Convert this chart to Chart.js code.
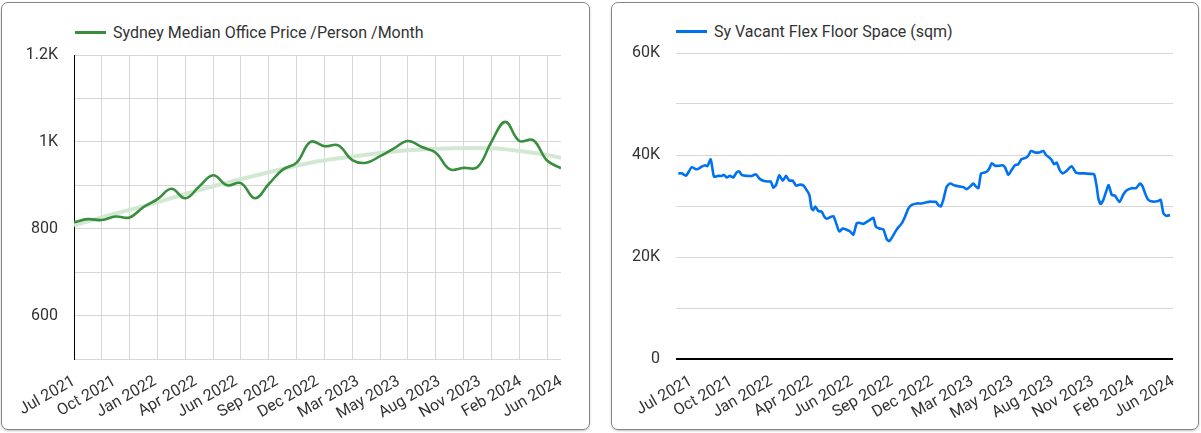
<!DOCTYPE html>
<html><head><meta charset="utf-8">
<script src="https://cdn.jsdelivr.net/npm/chart.js@4.4.1/dist/chart.umd.min.js"></script>
<style>
html,body{margin:0;padding:0;background:#fff;width:1201px;height:433px;overflow:hidden;font-family:Roboto,sans-serif;}
.card{position:absolute;border:1px solid #858585;border-radius:7px;box-sizing:border-box;box-shadow:0 1px 2px rgba(0,0,0,.25);}
.wrap{position:absolute;top:0;}
.legend{position:absolute;font:16px Roboto,sans-serif;color:#333;white-space:nowrap;display:flex;align-items:center;height:19px;}
.legend i{display:inline-block;width:31px;height:3px;margin-right:7px;}
</style></head><body>
<div class="card" style="left:1px;top:2px;width:589px;height:428px"></div>
<div class="card" style="left:611px;top:2px;width:588px;height:428px"></div>
<div class="legend" style="left:75px;top:23px"><i style="background:#388e3c"></i>Sydney Median Office Price /Person /Month</div>
<div class="legend" style="left:676px;top:22px"><i style="background:#0072f0"></i>Sy Vacant Flex Floor Space (sqm)</div>
<div class="wrap" style="left:0;width:590px;height:433px"><canvas id="c1" width="590" height="433"></canvas></div>
<div class="wrap" style="left:600px;width:601px;height:433px"><canvas id="c2" width="601" height="433"></canvas></div>
<script>
// x values are months since Jul 2021
const monthLabels = ['Jul 2021','Oct 2021','Jan 2022','Apr 2022','Jun 2022','Sep 2022','Dec 2022','Mar 2023','May 2023','Aug 2023','Nov 2023','Feb 2024','Jun 2024'];
const officeMonths = [0,1,2,3,4,5,6,7,8,9,10,11,12,13,14,15,16,17,18,19,20,21,22,23,24,25,26,27,28,29,30,31,32,33,34,35];
const officePrice = [815,822,820,828,826,850,868,892,870,897,923,900,905,870,903,936,952,1000,990,992,958,952,967,985,1002,988,975,937,940,942,1000,1046,1002,1004,957,939];
const trendMonths = [0,3,5,8,11,14,17,20,23,26,28,30,32,34,35];
const trendPrice = [808,835,852,880,906,930,952,966,978,984,986,985,979,970,963];
const priceTickValues = [600,800,1000,1200];
const priceTickText = ['600','800','1K','1.2K'];
const vacantMonths = [-0.92,-0.68,-0.36,0.05,0.41,0.77,1.02,1.19,1.43,1.67,1.98,2.23,2.40,2.59,2.83,3.07,3.32,3.49,3.68,4.04,4.41,4.72,4.96,5.25,5.62,5.79,5.98,6.17,6.41,6.66,6.90,7.14,7.38,7.63,7.92,8.16,8.40,8.59,8.76,8.88,9.01,9.25,9.49,9.66,9.85,10.09,10.34,10.58,10.77,11.01,11.26,11.55,11.79,12.03,12.22,12.51,12.76,13.00,13.24,13.43,13.68,13.97,14.21,14.40,14.65,14.94,15.30,15.54,15.78,16.03,16.39,16.75,17.07,17.36,17.60,17.79,17.96,18.13,18.32,18.57,18.81,19.17,19.54,19.78,20.02,20.26,20.50,20.70,20.87,21.06,21.23,21.47,21.67,21.84,22.08,22.39,22.63,22.80,23.05,23.29,23.53,23.77,24.01,24.33,24.50,24.69,24.98,25.30,25.59,25.78,26.02,26.19,26.36,26.56,26.75,26.99,27.28,27.64,27.96,28.25,28.61,28.98,29.27,29.46,29.58,29.75,29.94,30.14,30.33,30.55,30.79,31.11,31.40,31.64,32.00,32.32,32.61,32.80,32.97,33.21,33.58,33.94,34.11,34.30,34.50,34.79];
const vacantSqm = [36400,36400,35950,37600,37200,37700,38000,37800,39150,35750,35900,35900,36100,35600,35900,35600,36600,36800,36100,35900,35900,36200,35400,34970,34800,34800,33600,34100,36000,34970,35900,34970,34970,34000,34200,34000,33100,32200,29500,29200,29900,29000,28900,28000,27500,27800,28000,26300,25000,25600,25400,25000,24400,26600,26700,26500,26900,27300,27700,25900,25600,25400,23500,23100,24100,25400,26600,27900,29500,30200,30500,30500,30700,30850,30800,30800,30200,29900,31200,33800,34400,34000,33800,33700,33300,33800,34400,33800,33500,36400,36500,36700,37400,38400,37900,37900,38000,37600,36100,37100,38000,38200,39200,39500,39900,40800,40500,40500,40800,40000,39500,39000,38200,38500,37200,36400,36900,37800,36500,36400,36400,36300,36200,33800,31500,30400,31200,32800,34100,32200,32000,30800,32300,33100,33500,33500,34400,33800,32500,31200,30850,31000,31200,28600,28100,28200];
const vacantTickValues = [0,20000,40000,60000];
const vacantTickText = ['0','20K','40K','60K'];

const FONT = {family:'Roboto, sans-serif', size:16};
const TXT = '#333';
const GRID = '#d6d6d6';
const LBL_SPAN = 35; // months from first to last label

function labelAxis(min, max){
  return {
    type:'linear', position:'bottom', min:min, max:max,
    grid:{display:false, drawTicks:false}, border:{display:false},
    afterBuildTicks:s=>{ s.ticks = monthLabels.map((_,k)=>({value:k*LBL_SPAN/(monthLabels.length-1)})); },
    afterFit:s=>{ s.height = 60; },
    ticks:{autoSkip:false, minRotation:30, maxRotation:30, padding:13, color:TXT, font:FONT,
      callback:(v,i)=>monthLabels[i]}
  };
}

new Chart(document.getElementById('c1'), {
  type:'line',
  data:{datasets:[
    {label:'Sydney Median Office Price /Person /Month', data:officeMonths.map((m,i)=>({x:m,y:officePrice[i]})),
     borderColor:'#388e3c', borderWidth:2.6, pointRadius:0, tension:0.4, order:0, xAxisID:'x'},
    {label:'Trend', data:trendMonths.map((m,i)=>({x:m,y:trendPrice[i]})),
     borderColor:'#d3e8d3', borderWidth:4, pointRadius:0, cubicInterpolationMode:'monotone', order:1, xAxisID:'x'}
  ]},
  options:{
    responsive:false, animation:false, events:[],
    layout:{padding:{left:0, top:55, right:29, bottom:14}},
    plugins:{legend:{display:false}, tooltip:{enabled:false}},
    scales:{
      x:{type:'linear', position:'bottom', min:0, max:35,
        grid:{color:GRID, lineWidth:1, drawTicks:false}, border:{display:false},
        afterBuildTicks:s=>{ const t=[]; for(let m=2;m<35;m+=2) t.push({value:m}); s.ticks=t; },
        afterFit:s=>{ s.height=0; },
        ticks:{display:false}},
      xl:labelAxis(0,35),
      y:{type:'linear', min:500, max:1200,
        grid:{color:GRID, lineWidth:1, drawTicks:false}, border:{display:true, color:'#000', width:1},
        afterFit:s=>{ s.width=74; },
        ticks:{stepSize:100, padding:16, color:TXT, font:FONT,
          callback:v=>{ const k=priceTickValues.indexOf(v); return k<0?'':priceTickText[k]; }}}
    }
  }
});

new Chart(document.getElementById('c2'), {
  type:'line',
  data:{datasets:[
    {label:'Sy Vacant Flex Floor Space (sqm)', data:vacantMonths.map((m,i)=>({x:m,y:vacantSqm[i]})),
     borderColor:'#0072f0', borderWidth:2.6, pointRadius:0, tension:0.2, xAxisID:'x'}
  ]},
  options:{
    responsive:false, animation:false, events:[],
    layout:{padding:{left:0, top:53, right:28, bottom:14}},
    plugins:{legend:{display:false}, tooltip:{enabled:false}},
    scales:{
      x:labelAxis(-1.09,35),
      y:{type:'linear', min:0, max:60000,
        grid:{drawTicks:false, color:c=>c.tick.value===0?'#000':GRID, lineWidth:c=>c.tick.value===0?2:1},
        border:{display:false},
        afterFit:s=>{ s.width=76; },
        ticks:{stepSize:10000, padding:16, color:TXT, font:FONT,
          callback:v=>{ const k=vacantTickValues.indexOf(v); return k<0?'':vacantTickText[k]; }}}
    }
  }
});
</script>
</body></html>
